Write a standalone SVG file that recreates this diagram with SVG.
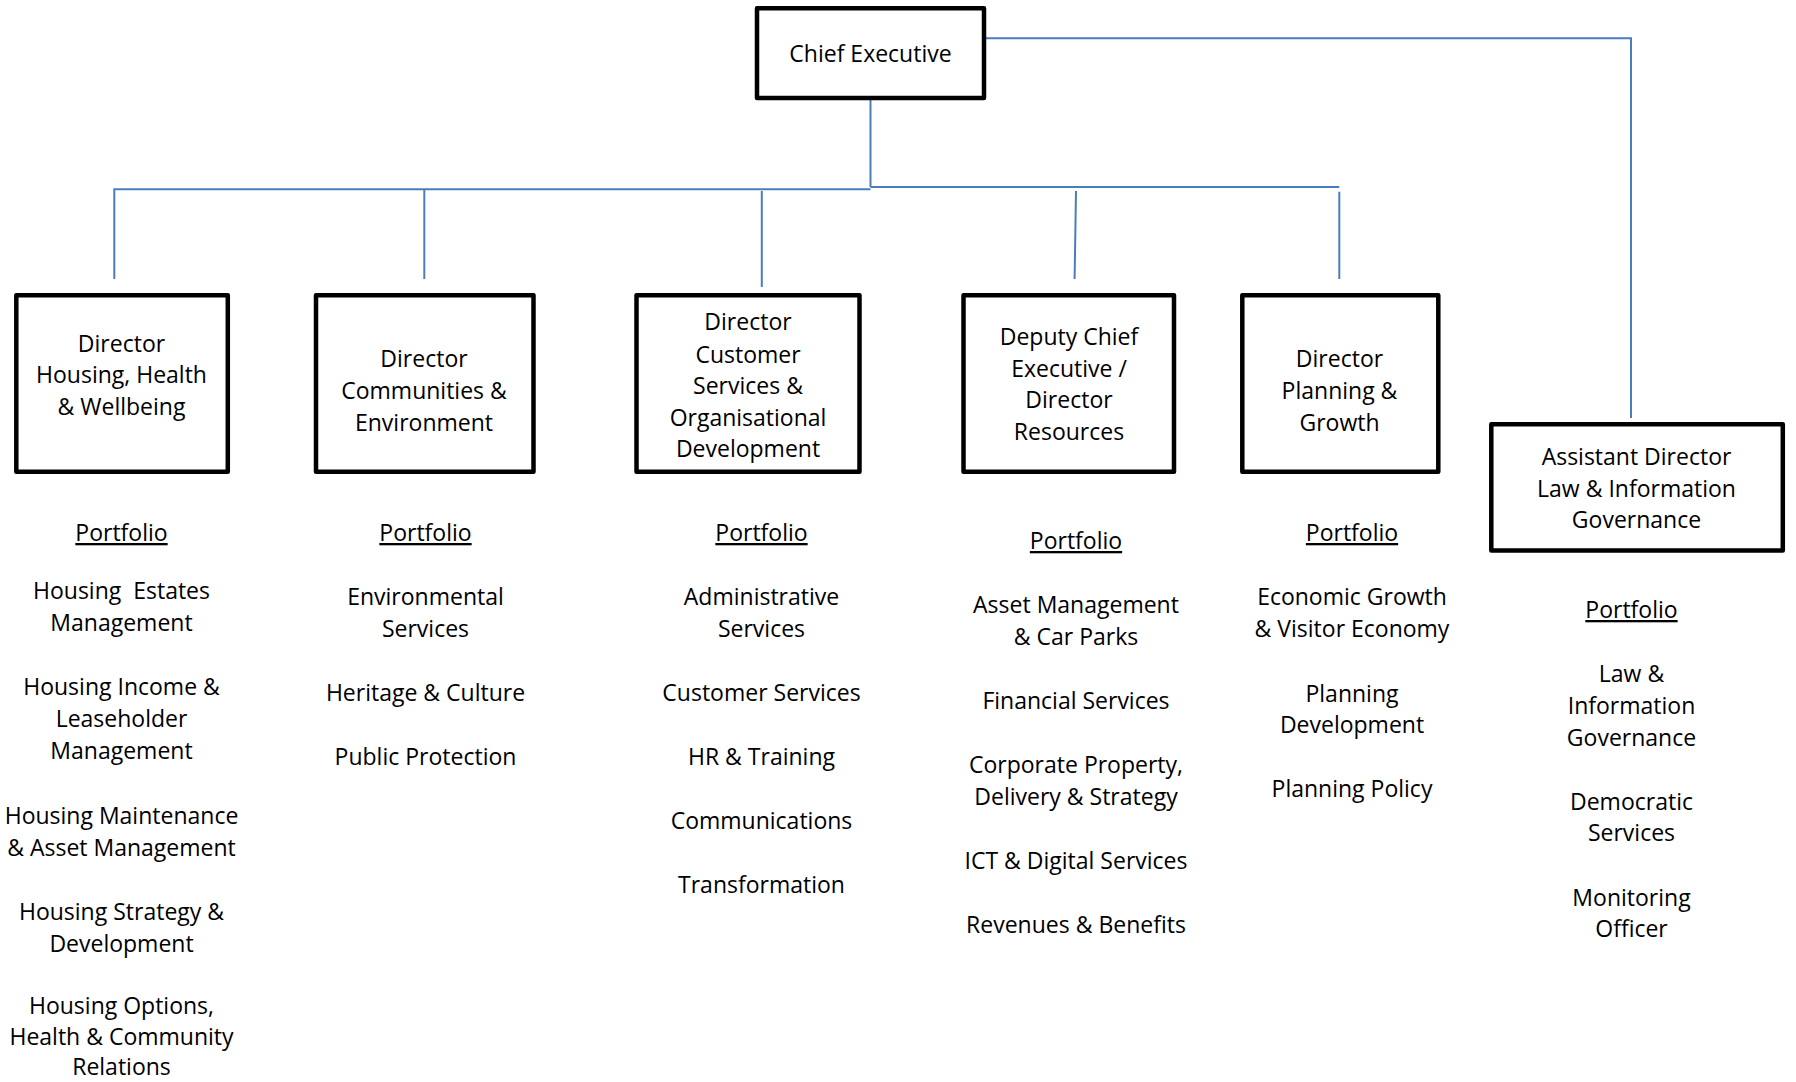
<svg xmlns="http://www.w3.org/2000/svg" width="1796" height="1082" viewBox="0 0 1796 1082">
<style>
.box{fill:#fff;stroke:#000;stroke-width:4.5;stroke-linejoin:round}
.t{font-family:"Open Sans","Liberation Sans",sans-serif;font-size:23px;fill:#000;text-anchor:middle}
.u{text-decoration:underline}
.c{fill:none;stroke:#4a7ebb;stroke-width:2}
</style>
<rect width="1796" height="1082" fill="#fff"/>
<g id="connectors">
<path class="c" d="M986 38.3H1631V418"/>
<path class="c" d="M870.5 100V187"/>
<path class="c" d="M870.5 189.3H114.3V279"/>
<path class="c" d="M870.5 187H1339.3"/>
<path class="c" d="M424.3 190V279"/>
<path class="c" d="M761.8 191V287"/>
<path class="c" d="M1076 191L1074.6 279"/>
<path class="c" d="M1339.3 191.7V279"/>
</g>
<g id="chief">
<rect class="box" x="757" y="8.3" width="227" height="89.7"/>
<text class="t" x="870.5" y="62">Chief Executive</text>
</g>
<g id="dir-housing">
<rect class="box" x="16.3" y="295.3" width="211.5" height="176.5"/>
<text class="t" x="121.5" y="351.5">Director</text>
<text class="t" x="121.5" y="383.3">Housing, Health</text>
<text class="t" x="121.5" y="415">&amp; Wellbeing</text>
</g>
<g id="dir-communities">
<rect class="box" x="316" y="295.3" width="217.5" height="176.5"/>
<text class="t" x="424" y="366.7">Director</text>
<text class="t" x="424" y="399">Communities &amp;</text>
<text class="t" x="424" y="430.7">Environment</text>
</g>
<g id="dir-customer">
<rect class="box" x="636.5" y="295.3" width="223" height="176.5"/>
<text class="t" x="748" y="330">Director</text>
<text class="t" x="748" y="362.5">Customer</text>
<text class="t" x="748" y="394">Services &amp;</text>
<text class="t" x="748" y="426">Organisational</text>
<text class="t" x="748" y="457.3">Development</text>
</g>
<g id="deputy-chief">
<rect class="box" x="963.5" y="295.3" width="210.5" height="176.5"/>
<text class="t" x="1069" y="345">Deputy Chief</text>
<text class="t" x="1069" y="376.7">Executive /</text>
<text class="t" x="1069" y="408.3">Director</text>
<text class="t" x="1069" y="440">Resources</text>
</g>
<g id="dir-planning">
<rect class="box" x="1242.3" y="295.3" width="196" height="176.5"/>
<text class="t" x="1339.5" y="366.7">Director</text>
<text class="t" x="1339.5" y="399">Planning &amp;</text>
<text class="t" x="1339.5" y="430.7">Growth</text>
</g>
<g id="asst-director-law">
<rect class="box" x="1491.3" y="424.3" width="291.5" height="126.2"/>
<text class="t" x="1636.5" y="465">Assistant Director</text>
<text class="t" x="1636.5" y="496.7">Law &amp; Information</text>
<text class="t" x="1636.5" y="528.3">Governance</text>
</g>
<g id="portfolio-housing">
<text class="t u" x="121.5" y="541">Portfolio</text>
<text class="t" x="121.5" y="598.5" xml:space="preserve">Housing  Estates</text>
<text class="t" x="121.5" y="630.5">Management</text>
<text class="t" x="121.5" y="695">Housing Income &amp;</text>
<text class="t" x="121.5" y="727">Leaseholder</text>
<text class="t" x="121.5" y="759">Management</text>
<text class="t" x="121.5" y="823.5">Housing Maintenance</text>
<text class="t" x="121.5" y="855.5">&amp; Asset Management</text>
<text class="t" x="121.5" y="919.5">Housing Strategy &amp;</text>
<text class="t" x="121.5" y="951.5">Development</text>
<text class="t" x="121.5" y="1014">Housing Options,</text>
<text class="t" x="121.5" y="1045">Health &amp; Community</text>
<text class="t" x="121.5" y="1075">Relations</text>
</g>
<g id="portfolio-communities">
<text class="t u" x="425.5" y="541">Portfolio</text>
<text class="t" x="425.5" y="605">Environmental</text>
<text class="t" x="425.5" y="637">Services</text>
<text class="t" x="425.5" y="701">Heritage &amp; Culture</text>
<text class="t" x="425.5" y="765">Public Protection</text>
</g>
<g id="portfolio-customer">
<text class="t u" x="761.5" y="541">Portfolio</text>
<text class="t" x="761.5" y="605">Administrative</text>
<text class="t" x="761.5" y="637">Services</text>
<text class="t" x="761.5" y="701">Customer Services</text>
<text class="t" x="761.5" y="765">HR &amp; Training</text>
<text class="t" x="761.5" y="829">Communications</text>
<text class="t" x="761.5" y="893">Transformation</text>
</g>
<g id="portfolio-resources">
<text class="t u" x="1076" y="549">Portfolio</text>
<text class="t" x="1076" y="613">Asset Management</text>
<text class="t" x="1076" y="645">&amp; Car Parks</text>
<text class="t" x="1076" y="708.5">Financial Services</text>
<text class="t" x="1076" y="772.5">Corporate Property,</text>
<text class="t" x="1076" y="804.5">Delivery &amp; Strategy</text>
<text class="t" x="1076" y="868.5">ICT &amp; Digital Services</text>
<text class="t" x="1076" y="932.5">Revenues &amp; Benefits</text>
</g>
<g id="portfolio-planning">
<text class="t u" x="1352" y="541">Portfolio</text>
<text class="t" x="1352" y="605">Economic Growth</text>
<text class="t" x="1352" y="637">&amp; Visitor Economy</text>
<text class="t" x="1352" y="701.5">Planning</text>
<text class="t" x="1352" y="733">Development</text>
<text class="t" x="1352" y="797">Planning Policy</text>
</g>
<g id="portfolio-law">
<text class="t u" x="1631.5" y="618">Portfolio</text>
<text class="t" x="1631.5" y="681.7">Law &amp;</text>
<text class="t" x="1631.5" y="713.5">Information</text>
<text class="t" x="1631.5" y="745.5">Governance</text>
<text class="t" x="1631.5" y="809.5">Democratic</text>
<text class="t" x="1631.5" y="841">Services</text>
<text class="t" x="1631.5" y="905.5">Monitoring</text>
<text class="t" x="1631.5" y="937">Officer</text>
</g>
</svg>
